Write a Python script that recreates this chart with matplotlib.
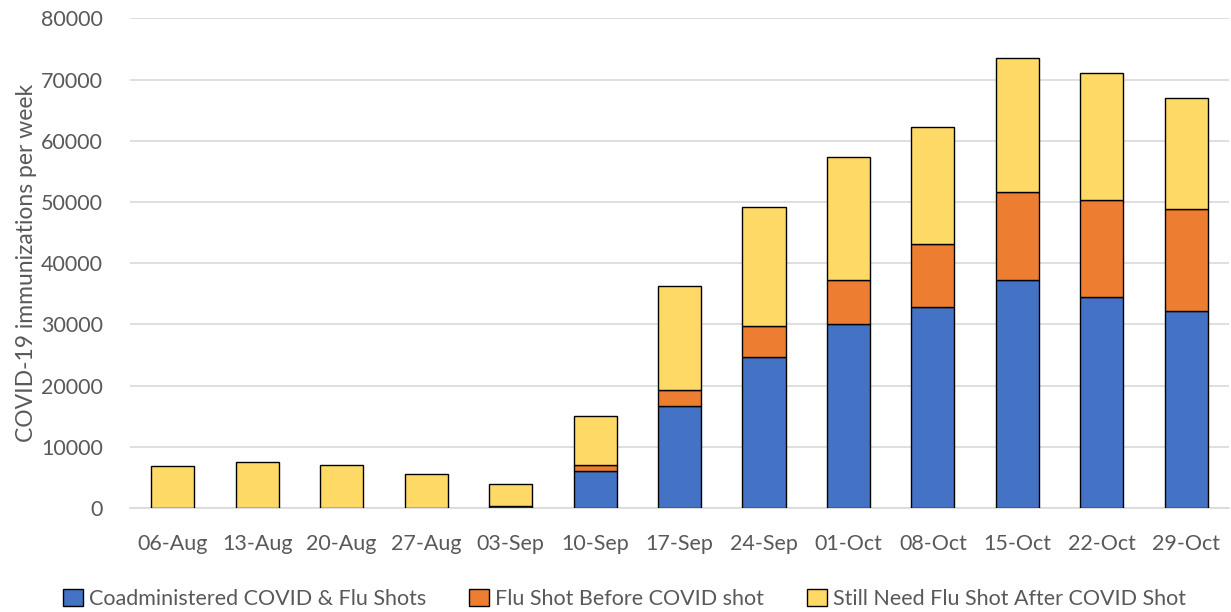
import matplotlib.pyplot as plt
import numpy as np

weeks = ["06-Aug", "13-Aug", "20-Aug", "27-Aug", "03-Sep", "10-Sep", "17-Sep",
         "24-Sep", "01-Oct", "08-Oct", "15-Oct", "22-Oct", "29-Oct"]
coadmin = [0, 0, 0, 0, 250, 6000, 16600, 24600, 30000, 32900, 37200, 34400, 32200]
flu_before = [0, 0, 0, 0, 0, 1100, 2700, 5200, 7200, 10200, 14500, 15900, 16600]
still_need = [6800, 7500, 7050, 5600, 3650, 7900, 16950, 19300, 20100, 19100, 21800, 20800, 18200]

labels = ["Coadministered COVID & Flu Shots", "Flu Shot Before COVID shot",
          "Still Need Flu Shot After COVID Shot"]
colors = ["#4472C4", "#ED7D31", "#FFD966"]

plt.rcParams['font.family'] = ['Lato', 'DejaVu Sans']
grey = "#595959"

fig = plt.figure(figsize=(12.31, 6.12), dpi=100)
ax = fig.add_axes([0.106, 0.17, 0.892, 0.80])

x = np.arange(len(weeks))
w = 0.51
bottom = np.zeros(len(weeks))
for vals, lab, col in zip([coadmin, flu_before, still_need], labels, colors):
    vals = np.array(vals, dtype=float)
    ax.bar(x, vals, w, bottom=bottom, color=col, edgecolor="black",
           linewidth=1.0, label=lab, zorder=3)
    bottom += vals

ax.set_xlim(-0.5, len(weeks) - 0.5)
ax.set_ylim(0, 80000)
ax.set_yticks(range(0, 80001, 10000))
ax.set_xticks(x)
ax.set_xticklabels(weeks)
ax.tick_params(axis="both", length=0, labelsize=15.5, colors=grey)
ax.tick_params(axis="x", pad=19)
ax.tick_params(axis="y", pad=20)
ax.grid(axis="y", color="#d9d9d9", linewidth=1.2, zorder=0)
for s in ["top", "right", "left"]:
    ax.spines[s].set_visible(False)
ax.spines["bottom"].set_color("#d9d9d9")
ax.spines["bottom"].set_linewidth(1.2)
ax.set_ylabel("COVID-19 immunizations per week", fontsize=16.5, color=grey, labelpad=3)

ax.legend(loc="upper center", bbox_to_anchor=(0.45, -0.125), ncol=3, frameon=False,
          fontsize=15.5, labelcolor=grey, handlelength=0.9, handleheight=0.9,
          handletextpad=0.3, columnspacing=2.0)

fig.savefig("out.png", dpi=100)
